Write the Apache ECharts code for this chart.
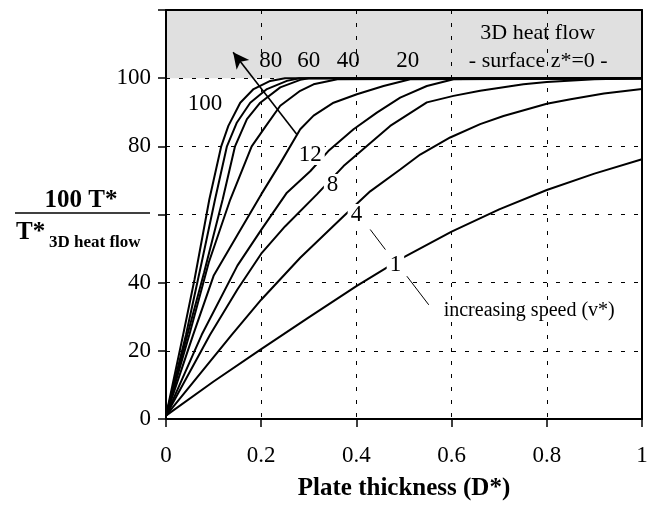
<!DOCTYPE html>
<html>
<head>
<meta charset="utf-8">
<script src="https://cdn.jsdelivr.net/npm/echarts@6/dist/echarts.min.js"></script>
<style>
html, body { margin: 0; padding: 0; background: #fff; }
#chart { width: 655px; height: 506px; }
</style>
</head>
<body>
<div id="chart"></div>
<script>
'use strict';

var xTicks = [0, 0.2, 0.4, 0.6, 0.8, 1];
// 60 has no label: the axis title sits there
var yTicks = [0, 20, 40, 80, 100];

// curves: [D*, 100 T*/T*3D]
var curveV1 = [[0, 1], [0.1, 11], [0.2, 20.5], [0.3, 29.8], [0.4, 39], [0.5, 47.5], [0.6, 55], [0.7, 61.5], [0.8, 67.2], [0.9, 72], [1, 76.2]];
var curveV4 = [[0, 1], [0.138, 24.7], [0.2, 35], [0.282, 47.3], [0.373, 59.5], [0.429, 66.8], [0.492, 73.2], [0.534, 77.6], [0.597, 82.6], [0.66, 86.5], [0.709, 88.9], [0.8, 92.5], [0.85, 93.8], [0.92, 95.5], [1, 96.8]];
var curveV8 = [[0, 1], [0.0925, 24.7], [0.15, 38], [0.2, 48.5], [0.25, 56.5], [0.317, 65.9], [0.373, 74.2], [0.422, 80.1], [0.471, 86], [0.548, 92.9], [0.604, 94.8], [0.66, 96.3], [0.751, 98.2], [0.8, 98.9], [0.9, 99.7], [1, 100]];
var curveV12 = [[0, 1], [0.075, 24.7], [0.15, 45], [0.2, 55.5], [0.254, 66.4], [0.303, 72.7], [0.341, 78.6], [0.394, 85], [0.443, 89.9], [0.492, 94.3], [0.548, 97.7], [0.604, 99.7], [1, 100]];
var curveV20 = [[0, 1], [0.057, 24.7], [0.1, 42], [0.15, 54], [0.2, 65.9], [0.24, 75], [0.282, 85], [0.31, 89], [0.352, 92.8], [0.401, 95.3], [0.457, 97.7], [0.513, 99.7], [1, 100]];
var curveV40 = [[0, 1], [0.049, 24.7], [0.09, 46], [0.135, 64.4], [0.18, 80], [0.21, 86], [0.24, 91.9], [0.282, 96.3], [0.31, 98.2], [0.36, 99.7], [1, 100]];
var curveV60 = [[0, 1], [0.045, 24.7], [0.08, 43], [0.119, 64.4], [0.145, 80], [0.17, 88], [0.198, 92.8], [0.24, 97.3], [0.282, 99.5], [0.3, 100], [1, 100]];
var curveV80 = [[0, 1], [0.042, 24.7], [0.075, 46], [0.103, 64.4], [0.128, 80], [0.149, 87], [0.177, 92.8], [0.212, 96.8], [0.254, 99.2], [0.28, 100], [1, 100]];
var curveV100 = [[0, 1], [0.036, 24.7], [0.06, 41], [0.091, 64.4], [0.116, 80], [0.131, 86], [0.156, 92.8], [0.184, 96.8], [0.219, 99.2], [0.25, 100], [1, 100]];

var speeds = ['1', '4', '8', '12', '20', '40', '60', '80', '100'];
var curves = [curveV1, curveV4, curveV8, curveV12, curveV20, curveV40, curveV60, curveV80, curveV100];

// annotation texts and where they sit (data coords)
var curveLabels = ['100', '80', '60', '40', '20', '12', '8', '4', '1'];
var curveLabelSpots = [[0.082, 92.4], [0.22, 105], [0.30, 105], [0.383, 105], [0.508, 105], [0.303, 77.6], [0.35, 68.8], [0.40, 60], [0.482, 45.3]];
var onCurve = ['12', '8', '4', '1'];
var notes = ['3D heat flow', '- surface z*=0 -', 'increasing speed (v*)'];
var noteSpots = [[0.781, 113.2], [0.782, 105], [0.763, 31.7]];
var arrowFromTo = [[0.275, 83.5], [0.141, 107.6]];
var leaders = [[[0.429, 55.6], [0.461, 49.7]], [[0.506, 41.9], [0.552, 33.5]]];

var FONT = '"Liberation Serif", "DejaVu Serif", serif';

function $each(arr, fn) {
    for (var i = 0; i < arr.length; i++) fn(arr[i], i);
}

var chart = echarts.init(document.getElementById('chart'));

var series = [];

// grey band: 3D heat flow zone
series.push({
    type: 'line',
    data: [],
    z: 1,
    silent: true,
    markArea: {
        silent: true,
        itemStyle: { color: '#e0e0e0', opacity: 1 },
        data: [[{ yAxis: 100 }, { yAxis: 120 }]]
    }
});

$each(curves, function (c, i) {
    series.push({
        name: 'v*=' + speeds[i],
        type: 'line',
        data: c,
        symbol: 'none',
        smooth: false,
        z: 3,
        lineStyle: { color: '#000', width: 2 }
    });
});

var annData = [];
$each(curveLabels, function (t, i) {
    var white = onCurve.indexOf(t) >= 0;
    annData.push({
        value: curveLabelSpots[i],
        label: {
            formatter: t,
            fontSize: 23,
            backgroundColor: white ? '#fff' : 'transparent',
            padding: white ? [0, 3, -2, 3] : 0
        }
    });
});
$each(notes, function (t, i) {
    annData.push({
        value: noteSpots[i],
        label: {
            formatter: t,
            fontSize: i === 2 ? 20 : 22
        }
    });
});

var lineData = [[
    { coord: arrowFromTo[0], symbol: 'none', lineStyle: { width: 1.6 } },
    { coord: arrowFromTo[1], symbol: 'arrow', symbolSize: [12, 16] }
]];
$each(leaders, function (l) {
    lineData.push([{ coord: l[0], symbol: 'none' }, { coord: l[1], symbol: 'none' }]);
});

series.push({
    type: 'scatter',
    data: annData,
    symbolSize: 0,
    z: 4,
    silent: true,
    itemStyle: { color: '#000', opacity: 1 },
    label: {
        show: true,
        position: 'inside',
        color: '#000',
        opacity: 1,
        textBorderWidth: 0,
        textBorderColor: 'transparent',
        textShadowBlur: 0,
        fontFamily: FONT
    },
    markLine: {
        silent: true,
        symbol: ['none', 'none'],
        label: { show: false },
        lineStyle: { color: '#000', width: 1, type: 'solid', opacity: 1 },
        data: lineData
    }
});

var options = {
    animation: false,
    backgroundColor: '#fff',
    textStyle: { fontFamily: FONT, color: '#000' },
    grid: { left: 166, right: 13, top: 10, bottom: 87, outerBoundsMode: 'none' },
    xAxis: [{
        type: 'value',
        min: xTicks[0],
        max: xTicks[xTicks.length - 1],
        interval: 0.2,
        z: 2,
        axisLine: { onZero: false, lineStyle: { color: '#000', width: 2 } },
        axisTick: { show: true, length: 8, lineStyle: { color: '#000', width: 1.5 } },
        axisLabel: { fontSize: 23, color: '#000', margin: 25, fontFamily: FONT },
        splitLine: { show: true, lineStyle: { color: '#000', width: 1, type: [4, 9] } },
        name: 'Plate thickness (D*)',
        nameLocation: 'middle',
        nameGap: 57,
        nameTextStyle: { fontSize: 25, fontWeight: 'bold', color: '#000', fontFamily: FONT }
    }, {
        type: 'value',
        position: 'top',
        min: 0,
        max: 1,
        z: 3,
        axisLine: { show: true, onZero: false, lineStyle: { color: '#000', width: 2 } },
        axisTick: { show: false },
        axisLabel: { show: false },
        splitLine: { show: false }
    }],
    yAxis: [{
        type: 'value',
        min: 0,
        max: 120,
        interval: 20,
        z: 2,
        axisLine: { show: true, onZero: false, lineStyle: { color: '#000', width: 2 } },
        axisTick: { show: true, length: 8, lineStyle: { color: '#000', width: 1.5 } },
        axisLabel: {
            fontSize: 23, color: '#000', margin: 15, fontFamily: FONT,
            formatter: function (v) { return yTicks.indexOf(v) >= 0 ? String(v) : ''; }
        },
        splitLine: { show: true, lineStyle: { color: '#000', width: 1, type: [4, 9] } }
    }, {
        type: 'value',
        position: 'right',
        min: 0,
        max: 120,
        z: 3,
        axisLine: { show: true, onZero: false, lineStyle: { color: '#000', width: 2 } },
        axisTick: { show: false },
        axisLabel: { show: false },
        splitLine: { show: false }
    }],
    graphic: [
        {
            type: 'text', x: 81, y: 201, z: 10,
            style: { text: '100 T*', fontSize: 25, fontWeight: 'bold', fontFamily: FONT, fill: '#000', align: 'center', verticalAlign: 'middle' }
        },
        {
            type: 'line', z: 10,
            shape: { x1: 15, y1: 213, x2: 150, y2: 213 },
            style: { stroke: '#000', lineWidth: 1.5 }
        },
        {
            type: 'text', x: 16, y: 233, z: 10,
            style: { text: 'T*', fontSize: 25, fontWeight: 'bold', fontFamily: FONT, fill: '#000', align: 'left', verticalAlign: 'middle' }
        },
        {
            type: 'text', x: 49, y: 243, z: 10,
            style: { text: '3D heat flow', fontSize: 17, fontWeight: 'bold', fontFamily: FONT, fill: '#000', align: 'left', verticalAlign: 'middle' }
        }
    ],
    series: series
};

chart.setOption(options);
</script>
</body>
</html>
